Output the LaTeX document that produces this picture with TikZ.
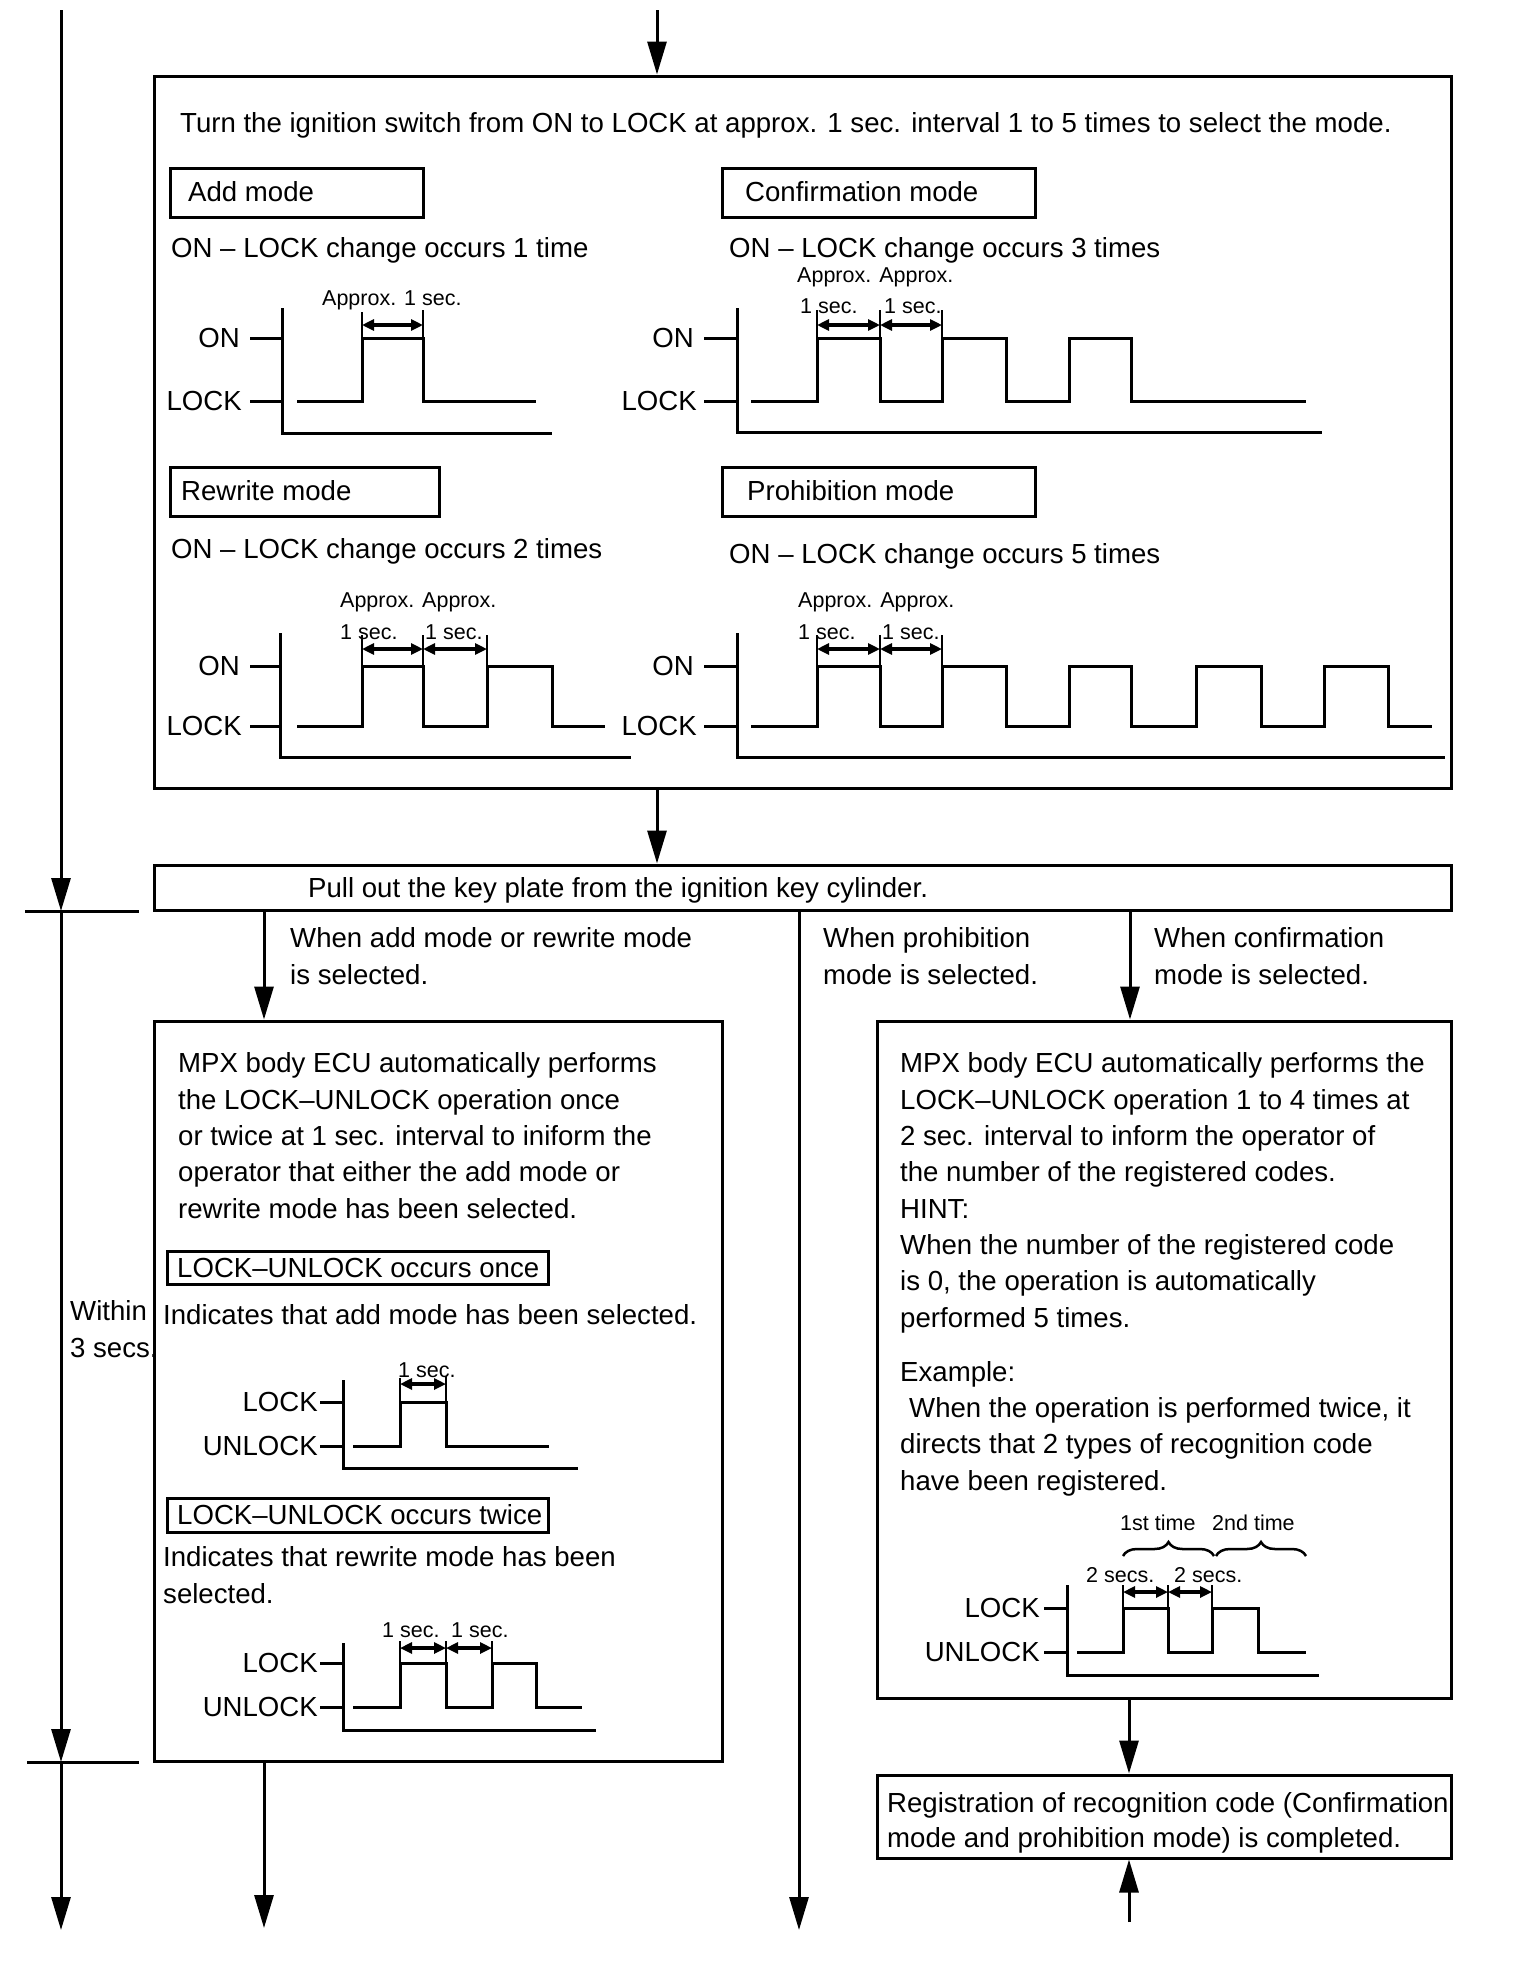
\documentclass[tikz,border=0pt]{standalone}
\usepackage{fontspec}
\setmainfont{Liberation Sans}
\usetikzlibrary{arrows.meta,fit,decorations.pathreplacing}
\newcommand\fb{\fontsize{27.6}{33}\selectfont}
\newcommand\fsm{\fontsize{21.5}{26}\selectfont}
\begin{document}
\begin{tikzpicture}[x=1pt,y=-1pt,
  bt/.style={font=\fb, anchor=west, inner sep=0pt, text height=19.8pt, text depth=0pt},
  btr/.style={bt, anchor=east},
  st/.style={font=\fsm, anchor=west, inner sep=0pt, text height=15.4pt, text depth=0pt},
  frame/.style={draw, line width=3pt, inner sep=0pt},
  conn/.style={line width=3pt, -{Triangle[length=33pt,width=19pt]}},
  wave/.style={line width=3pt},
  axis/.style={line width=3pt},
  ext/.style={line width=2pt},
  dim/.style={line width=3.5pt, {Triangle[length=12pt,width=11pt]}-{Triangle[length=12pt,width=11pt]}},
  brc/.style={line width=2.5pt, decorate, decoration={brace, amplitude=14pt}}
]
\fill[white] (0,0) rectangle (1536,1982);
\useasboundingbox (0,0) rectangle (1536,1982);

% ---------------- frames ----------------
\node[frame, fit={(154,76) (1451,788)}] (top) {};
\node[frame, fit={(154,865) (1451,910)}] (pull) {};
\node[frame, fit={(154,1021) (722,1761)}] (lbox) {};
\node[frame, fit={(877,1021) (1451,1698)}] (rbox) {};
\node[frame, fit={(877,1775) (1451,1858)}] (reg) {};

% ---------------- connectors ----------------
\coordinate (cin) at (657,10);
\coordinate (cl) at (264,910);
\coordinate (cm) at (799,910);
\coordinate (cr) at (1130,910);
\coordinate (endm) at (799,1930);
\coordinate (endl) at (264,1928);
\coordinate (cup) at (1129,1922);
\draw[conn] (cin) -- (top.north -| cin);
\draw[conn] (top.south -| cin) -- (pull.north -| cin);
\draw[conn] (pull.south -| cl) -- (lbox.north -| cl);
\draw[conn] (pull.south -| cm) -- (endm);
\draw[conn] (pull.south -| cr) -- (rbox.north -| cr);
\draw[conn] (lbox.south -| cl) -- (endl);
\draw[conn] (rbox.south -| cup) -- (reg.north -| cup);
\draw[conn] (cup) -- (reg.south -| cup);

% left time line
\coordinate (L0) at (61,10);
\coordinate (L1) at (61,911);
\coordinate (L2) at (61,1762);
\coordinate (L3) at (61,1930);
\coordinate (T1a) at (25,911);
\coordinate (T1b) at (139,911);
\coordinate (T2a) at (27,1762);
\coordinate (T2b) at (139,1762);
\draw[conn] (L0) -- (L1);
\draw[conn] (L1) -- (L2);
\draw[conn] (L2) -- (L3);
\draw[line width=3pt] (T1a) -- (T1b);
\draw[line width=3pt] (T2a) -- (T2b);
\node[bt] (within1) at (70,1311) {Within};
\node[bt] (within2) at (70,1348) {3 secs.};

% ---------------- top box ----------------
\node[bt] (turn) at (180,123) {Turn the ignition switch from ON to LOCK at approx. 1 sec. interval 1 to 5 times to select the mode.};
\node[frame, fit={(170,168) (423,217)}] (addbox) {};
\node[bt] (addt) at (188,192) {Add mode};
\node[frame, fit={(722,168) (1035,217)}] (confbox) {};
\node[bt] (conft) at (745,192) {Confirmation mode};
\node[bt] (add1) at (171,248) {ON – LOCK change occurs 1 time};
\node[bt] (conf1) at (729,248) {ON – LOCK change occurs 3 times};
\node[st] (confap) at (797,275) {Approx. Approx.};
\node[st] (addap) at (322,298) {Approx. 1 sec.};
\node[st] (confs1) at (800,306) {1 sec.};
\node[st] (confs2) at (884,306) {1 sec.};

% add mode waveform
\draw[axis] (282,308) -- (282,433) -- (552,433);
\draw[axis] (250,338) -- (282,338);
\draw[axis] (250,401) -- (282,401);
\node[btr] (addon) at (240,338) {ON};
\node[btr] (addlock) at (242,401) {LOCK};
\draw[wave] (297,401) -- (362,401) -- (362,338) -- (423,338) -- (423,401) -- (536,401);
\draw[ext] (362,312) -- (362,338) (423,310) -- (423,338);
\draw[dim] (362,325) -- (423,325);

% confirmation waveform
\draw[axis] (737,308) -- (737,432) -- (1322,432);
\draw[axis] (704,338) -- (737,338);
\draw[axis] (704,401) -- (737,401);
\node[btr] (confon) at (694,338) {ON};
\node[btr] (conflock) at (697,401) {LOCK};
\draw[wave] (751,401) -- (817,401) -- (817,338) -- (880,338) -- (880,401) -- (942,401) -- (942,338)
  -- (1006,338) -- (1006,401) -- (1069,401) -- (1069,338) -- (1131,338) -- (1131,401) -- (1306,401);
\draw[ext] (817,310) -- (817,338) (880,310) -- (880,338) (942,310) -- (942,338);
\draw[dim] (817,325) -- (880,325);
\draw[dim] (880,325) -- (942,325);

% rewrite / prohibition
\node[frame, fit={(170,467) (439,516)}] (rewbox) {};
\node[bt] (rewt) at (181,491) {Rewrite mode};
\node[frame, fit={(722,467) (1035,516)}] (probox) {};
\node[bt] (prot) at (747,491) {Prohibition mode};
\node[bt] (rew1) at (171,549) {ON – LOCK change occurs 2 times};
\node[bt] (pro1) at (729,554) {ON – LOCK change occurs 5 times};
\node[st] (rewap) at (340,600) {Approx. Approx.};
\node[st] (proap) at (798,600) {Approx. Approx.};
\node[st] (rews1) at (340,632) {1 sec.};
\node[st] (rews2) at (425,632) {1 sec.};
\node[st] (pros1) at (798,632) {1 sec.};
\node[st] (pros2) at (882,632) {1 sec.};

% rewrite waveform
\draw[axis] (280,633) -- (280,757) -- (631,757);
\draw[axis] (250,666) -- (280,666);
\draw[axis] (250,726) -- (280,726);
\node[btr] (rewon) at (240,666) {ON};
\node[btr] (rewlock) at (242,726) {LOCK};
\draw[wave] (297,726) -- (362,726) -- (362,666) -- (423,666) -- (423,726) -- (487,726) -- (487,666)
  -- (552,666) -- (552,726) -- (605,726);
\draw[ext] (362,635) -- (362,666) (423,635) -- (423,666) (487,635) -- (487,666);
\draw[dim] (362,649) -- (423,649);
\draw[dim] (423,649) -- (487,649);

% prohibition waveform
\draw[axis] (737,633) -- (737,757) -- (1445,757);
\draw[axis] (704,666) -- (737,666);
\draw[axis] (704,726) -- (737,726);
\node[btr] (proon) at (694,666) {ON};
\node[btr] (prolock) at (697,726) {LOCK};
\draw[wave] (751,726) -- (817,726) -- (817,666) -- (880,666) -- (880,726) -- (942,726) -- (942,666)
  -- (1006,666) -- (1006,726) -- (1069,726) -- (1069,666) -- (1131,666) -- (1131,726)
  -- (1196,726) -- (1196,666) -- (1261,666) -- (1261,726) -- (1324,726) -- (1324,666)
  -- (1388,666) -- (1388,726) -- (1432,726);
\draw[ext] (817,635) -- (817,666) (880,635) -- (880,666) (942,635) -- (942,666);
\draw[dim] (817,649) -- (880,649);
\draw[dim] (880,649) -- (942,649);

% ---------------- pull out ----------------
\node[bt] (pullt) at (308,888) {Pull out the key plate from the ignition key cylinder.};
\node[bt] (wa1) at (290,938) {When add mode or rewrite mode};
\node[bt] (wa2) at (290,975) {is selected.};
\node[bt] (wp1) at (823,938) {When prohibition};
\node[bt] (wp2) at (823,975) {mode is selected.};
\node[bt] (wc1) at (1154,938) {When confirmation};
\node[bt] (wc2) at (1154,975) {mode is selected.};

% ---------------- left box ----------------
\foreach \t [count=\i] in {{MPX body ECU automatically performs},
  {the LOCK–UNLOCK operation once},
  {or twice at 1 sec. interval to iniform the},
  {operator that either the add mode or},
  {rewrite mode has been selected.}}
  {\node[bt] (lb\i) at (178,{1063+(\i-1)*36.3}) {\t};}
\node[frame, fit={(167,1251) (548,1284)}] (oncebox) {};
\node[bt] (oncet) at (177,1268) {LOCK–UNLOCK occurs once};
\node[bt] (ind1) at (163,1315) {Indicates that add mode has been selected.};
\node[st] (onces) at (398,1370) {1 sec.};
\draw[axis] (343,1380) -- (343,1468) -- (578,1468);
\draw[axis] (320,1402) -- (343,1402);
\draw[axis] (320,1446) -- (343,1446);
\node[btr] (oncelock) at (318,1402) {LOCK};
\node[btr] (onceun) at (318,1446) {UNLOCK};
\draw[wave] (353,1446) -- (400,1446) -- (400,1402) -- (446,1402) -- (446,1446) -- (549,1446);
\draw[ext] (400,1378) -- (400,1402) (446,1376) -- (446,1402);
\draw[dim] (400,1384) -- (446,1384);

\node[frame, fit={(167,1498) (548,1532)}] (twicebox) {};
\node[bt] (twicet) at (177,1515) {LOCK–UNLOCK occurs twice};
\node[bt] (ind2) at (163,1557) {Indicates that rewrite mode has been};
\node[bt] (ind3) at (163,1594) {selected.};
\node[st] (twices1) at (382,1630) {1 sec.};
\node[st] (twices2) at (451,1630) {1 sec.};
\draw[axis] (343,1643) -- (343,1730) -- (596,1730);
\draw[axis] (320,1663) -- (343,1663);
\draw[axis] (320,1707) -- (343,1707);
\node[btr] (twicelock) at (318,1663) {LOCK};
\node[btr] (twiceun) at (318,1707) {UNLOCK};
\draw[wave] (353,1707) -- (400,1707) -- (400,1663) -- (446,1663) -- (446,1707) -- (492,1707)
  -- (492,1663) -- (536,1663) -- (536,1707) -- (582,1707);
\draw[ext] (400,1641) -- (400,1663) (446,1641) -- (446,1663) (492,1641) -- (492,1663);
\draw[dim] (400,1648) -- (446,1648);
\draw[dim] (446,1648) -- (492,1648);

% ---------------- right box ----------------
\foreach \t [count=\i] in {{MPX body ECU automatically performs the},
  {LOCK–UNLOCK operation 1 to 4 times at},
  {2 sec. interval to inform the operator of},
  {the number of the registered codes.},
  {HINT:},
  {When the number of the registered code},
  {is 0, the operation is automatically},
  {performed 5 times.}}
  {\node[bt] (rb\i) at (900,{1063+(\i-1)*36.3}) {\t};}
\node[bt] (ex1) at (900,1372) {Example:};
\node[bt] (ex2) at (909,1408) {When the operation is performed twice, it};
\node[bt] (ex3) at (900,1444) {directs that 2 types of recognition code};
\node[bt] (ex4) at (900,1481) {have been registered.};
\node[st] (first) at (1120,1523) {1st time};
\node[st] (second) at (1212,1523) {2nd time};
\draw[brc] (1123,1556) -- (1214,1556);
\draw[brc] (1216,1556) -- (1306,1556);
\node[st] (rs1) at (1086,1575) {2 secs.};
\node[st] (rs2) at (1174,1575) {2 secs.};
\draw[axis] (1067,1585) -- (1067,1675) -- (1319,1675);
\draw[axis] (1044,1608) -- (1067,1608);
\draw[axis] (1044,1652) -- (1067,1652);
\node[btr] (rlock) at (1040,1608) {LOCK};
\node[btr] (run) at (1040,1652) {UNLOCK};
\draw[wave] (1077,1652) -- (1123,1652) -- (1123,1608) -- (1168,1608) -- (1168,1652) -- (1212,1652)
  -- (1212,1608) -- (1258,1608) -- (1258,1652) -- (1306,1652);
\draw[ext] (1123,1585) -- (1123,1608) (1168,1585) -- (1168,1608) (1212,1585) -- (1212,1608);
\draw[dim] (1123,1592) -- (1168,1592);
\draw[dim] (1168,1592) -- (1212,1592);

% ---------------- registration box ----------------
\node[bt] (reg1) at (887,1803) {Registration of recognition code (Confirmation};
\node[bt] (reg2) at (887,1838) {mode and prohibition mode) is completed.};
\end{tikzpicture}
\end{document}
